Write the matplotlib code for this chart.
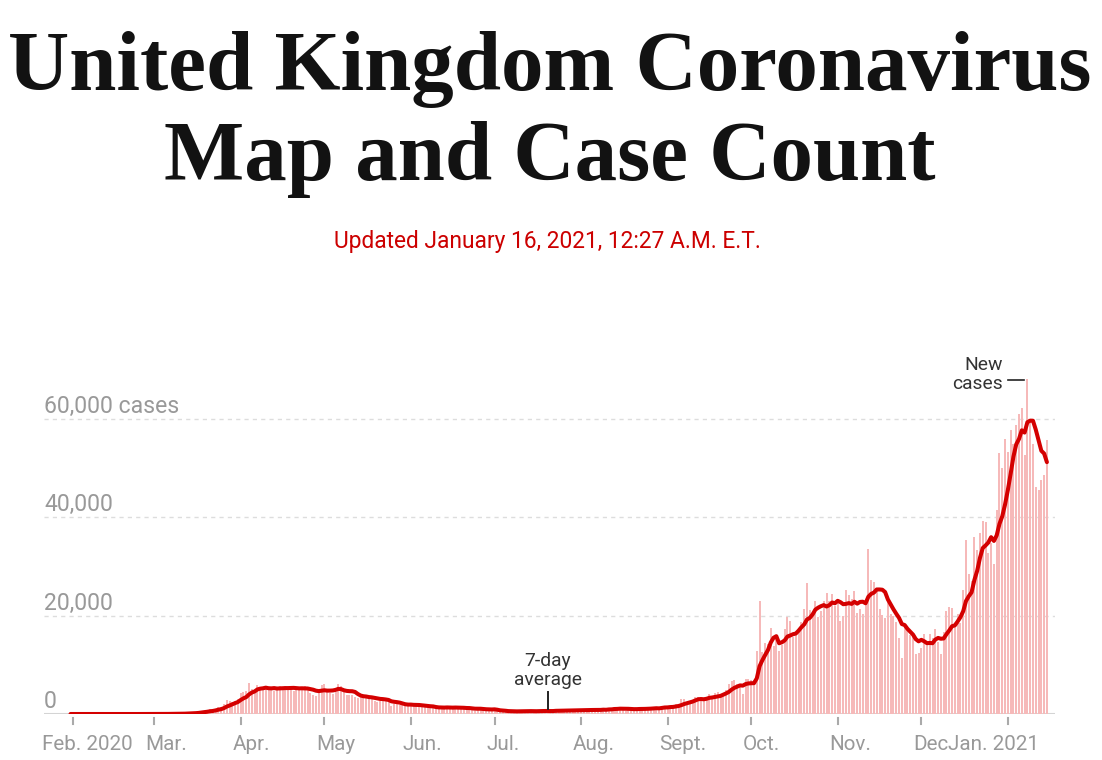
import numpy as np
import pandas as pd
import matplotlib
matplotlib.use("Agg")
import matplotlib.pyplot as plt
import matplotlib.dates as mdates
from matplotlib.transforms import blended_transform_factory, offset_copy

# ------------------ datos: casos nuevos diarios (Reino Unido) ------------------
cases_jan20 = [2]
cases_feb20 = [0, 0, 0, 0, 0, 1, 0, 0, 0, 4, 1, 0, 0, 1, 0, 0, 0, 0, 0, 0,
               0, 0, 0, 0, 0, 4, 2, 6, 3]
cases_mar20 = [13, 4, 11, 34, 29, 48, 43, 67, 48, 61, 83, 134, 208, 342, 232,
               171, 407, 676, 643, 714, 1035, 665, 967, 1427, 1452, 2129, 2885,
               2546, 2433, 2619, 3009]
cases_apr20 = [4300, 4500, 4700, 6300, 5100, 4200, 5900, 5400, 5000, 5600,
               5500, 4900, 4600, 5300, 5600, 5300, 5700, 5500, 5100, 4700,
               5000, 5200, 5400, 5600, 5300, 4300, 3800, 3600, 4600, 6000]
cases_may20 = [6200, 4800, 4300, 4000, 4400, 6100, 5600, 4600, 3900, 3900,
               3900, 3400, 3200, 3400, 3600, 3500, 3100, 3500, 2700, 2500,
               2600, 3300, 3000, 2400, 1600, 2000, 2000, 1900, 2100, 1900, 1900]
cases_jun20 = [1600, 1650, 1870, 1800, 1650, 1560, 1330, 1200, 1390, 1000,
               1270, 1540, 1420, 1510, 1060, 1280, 1120, 1220, 1350, 1300,
               1220, 960, 870, 650, 1120, 1380, 890, 900, 820, 690]
cases_jul20 = [830, 580, 540, 620, 520, 350, 580, 630, 510, 640, 650, 540, 530,
               600, 540, 460, 690, 830, 650, 580, 450, 560, 770, 770, 770, 750,
               690, 580, 760, 850, 880]
cases_aug20 = [740, 740, 940, 670, 890, 950, 870, 760, 1060, 820, 1150, 1010,
               1440, 1010, 1080, 1040, 710, 1090, 810, 1180, 1030, 1290, 1040,
               850, 1180, 1050, 1520, 1280, 1110, 1720, 1410]
cases_sep20 = [1300, 1510, 1740, 1940, 1810, 2990, 2950, 2420, 2660, 2920,
               3540, 3500, 3330, 2620, 3110, 3990, 3400, 4320, 4420, 3900,
               4370, 4930, 6180, 6630, 6870, 6040, 5690, 4040, 7140, 7110]
cases_oct20 = [6910, 6970, 12870, 22960, 12590, 14540, 14160, 17540, 13860,
               15170, 12870, 13970, 17230, 19720, 18980, 15650, 16170, 16980,
               18800, 21330, 26690, 21240, 20530, 23010, 19790, 20890, 22890,
               24700, 23070, 24410, 21920]
cases_nov20 = [23250, 18950, 20020, 25180, 24140, 23290, 24960, 20570, 21350,
               20410, 22950, 33470, 27300, 26860, 24960, 21360, 20050, 19610,
               22920, 20250, 19880, 18660, 15450, 11300, 18210, 17560, 16020,
               15870, 12160, 12330]
cases_dec20 = [13430, 16170, 14880, 16300, 15540, 17270, 14720, 12280, 16580,
               20960, 21670, 21500, 18450, 20260, 18450, 25160, 35380, 28510,
               27050, 35930, 33360, 36800, 39240, 39040, 32730, 34690, 30500,
               41390, 53140, 50020, 55890]
cases_jan21 = [53290, 57730, 54990, 58780, 60920, 62320, 52620, 68050, 59940,
               54940, 46170, 45530, 47530, 48680, 55760]

month_labels = ["Feb. 2020", "Mar.", "Apr.", "May", "Jun.", "Jul.", "Aug.",
                "Sept.", "Oct.", "Nov.", "Dec", "Jan. 2021"]
grid_values = [0, 20000, 40000, 60000]
grid_labels = ["0", "20,000", "40,000", "60,000 cases"]

TITLE = "United Kingdom Coronavirus\nMap and Case Count"
UPDATED = "Updated January 16, 2021, 12:27 A.M. E.T."

# ------------------ preparar series ------------------
daily = (cases_jan20 + cases_feb20 + cases_mar20 + cases_apr20 + cases_may20 +
         cases_jun20 + cases_jul20 + cases_aug20 + cases_sep20 + cases_oct20 +
         cases_nov20 + cases_dec20 + cases_jan21)
dates = pd.date_range("2020-01-31", periods=len(daily), freq="D")
serie = pd.Series(daily, index=dates, dtype=float)
avg7 = serie.rolling(7, min_periods=1).mean()
xnum = mdates.date2num(dates.to_pydatetime())

month_starts = pd.date_range("2020-02-01", "2021-01-01", freq="MS")
tick_x = mdates.date2num(month_starts.to_pydatetime())

# ------------------ estilos ------------------
SANS = ["Roboto", "DejaVu Sans"]
SERIF = ["Liberation Serif", "DejaVu Serif"]
GRAY = "#999999"
RED = "#d40000"
BAR_COLOR = "#f6b9b9"

W, H = 1102, 760
YMAX = 72000
fig = plt.figure(figsize=(W / 100, H / 100), dpi=100)

# axes: x 44..1055 px, y 360..714 px
ax = fig.add_axes([44 / W, (H - 714) / H, (1055 - 44) / W, (714 - 360) / H])
x0 = tick_x[0]
ax.set_xlim(x0 - 10.5, x0 + 351.9)
ax.set_ylim(0, YMAX)
for sp in ax.spines.values():
    sp.set_visible(False)
ax.set_xticks([])
ax.set_yticks([])
px_per_val = 354 / YMAX

# lineas de referencia
for v in grid_values[1:]:
    ax.axhline(v, color="#dddddd", lw=1, ls=(0, (3, 3)), zorder=0)
ax.axhline(0, color="#d4d4d4", lw=1.5, zorder=0.5)

# barras diarias + media 7 dias
ax.bar(xnum, serie.values, width=0.72, color=BAR_COLOR, linewidth=0, zorder=1)
ax.plot(xnum, avg7.values, color=RED, lw=2.9, solid_capstyle="round",
        solid_joinstyle="round", zorder=3)

# etiquetas eje y
ytrans = blended_transform_factory(ax.transAxes, ax.transData)
ytrans = offset_copy(ytrans, fig=fig, x=0, y=6, units="dots")
for v, lab in zip(grid_values, grid_labels):
    ax.text(0, v, lab, transform=ytrans, ha="left", va="baseline",
            fontsize=16.6, color=GRAY, family=SANS)

# marcas y etiquetas de meses
xtrans = blended_transform_factory(ax.transData, ax.transAxes)
for tx in tick_x:
    ax.plot([tx, tx], [-0.0113, -0.0282], transform=xtrans, color="#aaaaaa",
            lw=1.5, clip_on=False)
for i, (tx, lab) in enumerate(zip(tick_x, month_labels)):
    dx = -8.5
    if i == 0:
        dx = -31.6
    if i == len(month_labels) - 1:
        dx = -60
    tr = offset_copy(xtrans, fig=fig, x=dx, y=0, units="dots")
    ax.text(tx, -0.1017, lab, transform=tr, ha="left", va="baseline",
            fontsize=14.9, color=GRAY, family=SANS)

# anotacion "7-day average"
ann_day = pd.Timestamp("2020-07-20")
ann_date = mdates.date2num(ann_day.to_pydatetime())
ann_val = avg7.loc[ann_day]
ax.plot([ann_date, ann_date],
        [ann_val + 1.5 / px_per_val, ann_val + 19 / px_per_val],
        color="#222222", lw=1.4, zorder=4)
ax.text(ann_date, ann_val + 26 / px_per_val, "7-day\naverage", ha="center",
        va="baseline", multialignment="center", fontsize=13.9, color="#333333",
        family=SANS, linespacing=1.1, zorder=5)

# anotacion "New cases" junto al maximo diario
i_max = int(np.argmax(serie.values))
px, py = xnum[i_max], serie.values[i_max]
tr_txt = offset_copy(ax.transData, fig=fig, x=-25, y=-10, units="dots")
ax.text(px, py, "New\ncases", transform=tr_txt, ha="right", va="baseline",
        multialignment="right", fontsize=13.9, color="#333333", family=SANS,
        linespacing=1.1)
tr_tick = offset_copy(ax.transData, fig=fig, x=0, y=-1, units="dots")
ax.plot([px - 19 / 2.79, px - 3.5 / 2.79], [py, py], transform=tr_tick,
        color="#222222", lw=1.2, clip_on=False)

# titulo
title_lines = TITLE.split("\n")
t1 = fig.text(550 / W, 1 - 90 / H, title_lines[0], ha="center", va="baseline",
              fontsize=60, weight="bold", family=SERIF, color="#121212")
fig.canvas.draw()
w1 = t1.get_window_extent().width
fs = 60 * 1084 / w1
t1.set_fontsize(fs)
fig.text(550 / W, 1 - 180 / H, title_lines[1], ha="center", va="baseline",
         fontsize=fs, weight="bold", family=SERIF, color="#121212")

fig.text(547 / W, 1 - 248 / H, UPDATED, ha="center", va="baseline",
         fontsize=16.4, color="#cc0000", family=SANS)

fig.savefig("out.png", dpi=100, facecolor="white")
